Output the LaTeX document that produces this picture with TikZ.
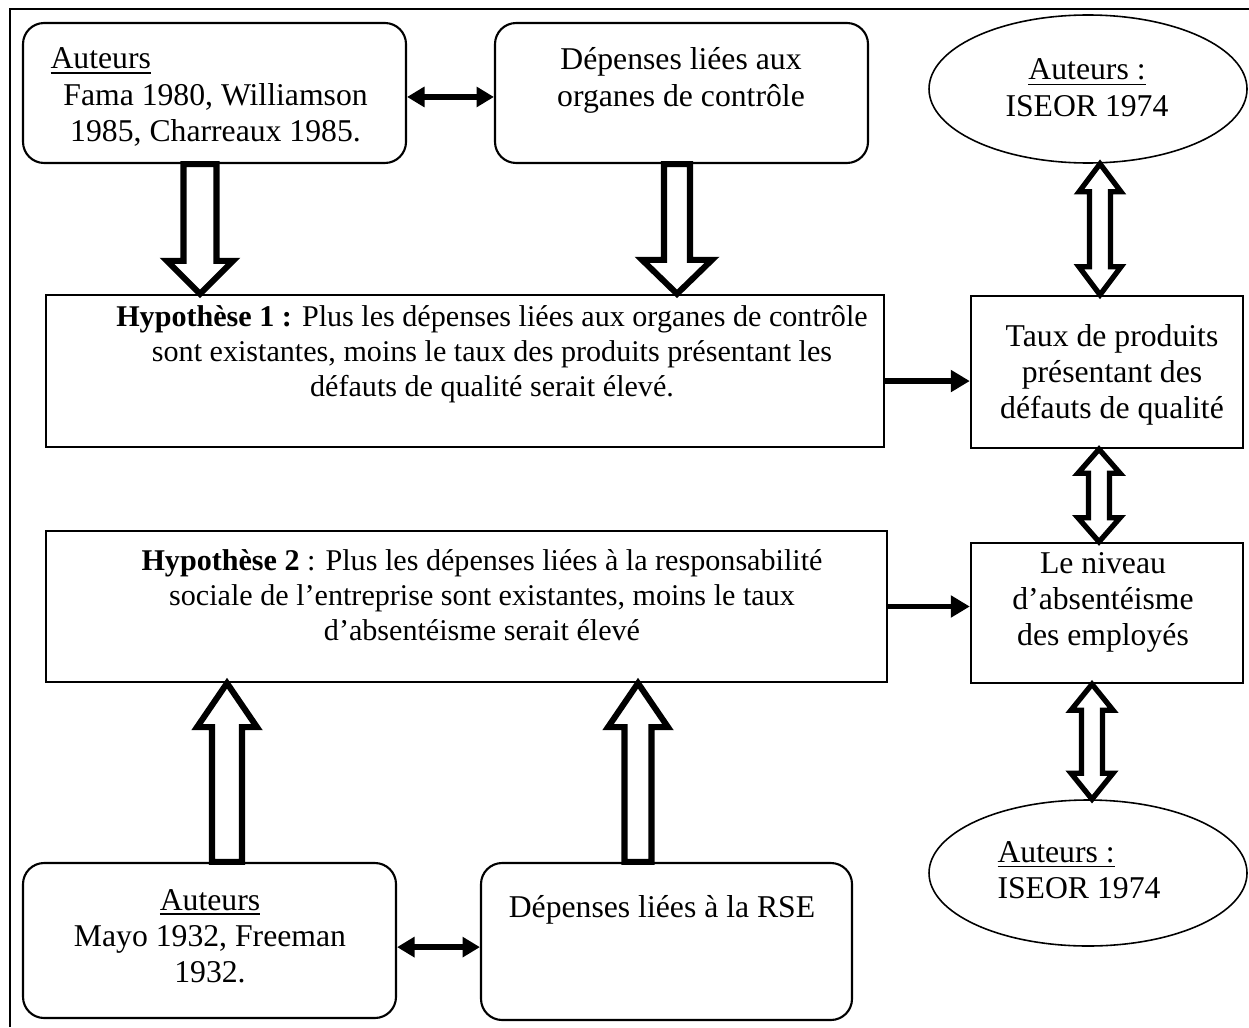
\documentclass[tikz,border=0pt]{standalone}
\usepackage{fontspec}
\setmainfont{Liberation Serif}
\usetikzlibrary{arrows.meta,shapes.geometric,calc}
\newlength\px \setlength\px{0.3785pt}
\newcommand\blkv[5]{\draw[blkl] ($(#1)+(-#3,0)$) -- ($(#2)+(-#3,#5)$) -- ($(#2)+(-#4,#5)$) -- (#2) -- ($(#2)+(#4,#5)$) -- ($(#2)+(#3,#5)$) -- ($(#1)+(#3,0)$) -- cycle;}
\newcommand\blkvv[5]{\draw[blkr] (#1) -- ($(#1)+(#4,#5)$) -- ($(#1)+(#3,#5)$) -- ($(#2)+(#3,-#5)$) -- ($(#2)+(#4,-#5)$) -- (#2) -- ($(#2)+(-#4,-#5)$) -- ($(#2)+(-#3,-#5)$) -- ($(#1)+(-#3,#5)$) -- ($(#1)+(-#4,#5)$) -- cycle;}
\begin{document}
\begin{tikzpicture}[x=0.3785pt,y=-0.3785pt,
  rbox/.style={draw, rounded corners=8pt, line width=0.8pt, inner sep=0pt},
  sbox/.style={draw, rectangle, line width=0.9pt, inner sep=0pt},
  ell/.style={draw, ellipse, line width=0.6pt, inner sep=0pt},
  txt/.style={inner sep=0pt, anchor=base, font=\fontsize{12}{13.8}\selectfont},
  htxt/.style={inner sep=0pt, anchor=base, font=\fontsize{11.4}{13.4}\selectfont},
  blkl/.style={draw, fill=white, line width=2.3pt, line join=miter},
  blkr/.style={draw, fill=white, line width=2pt, line join=miter},
  tarr/.style={line width=2.1pt, -{Triangle[length=7.2pt,width=8pt]}},
  darr/.style={line width=2.2pt, {Triangle[length=6.6pt,width=7.4pt]}-{Triangle[length=6.6pt,width=7.4pt]}}]
\useasboundingbox (0,0) rectangle (1249,1027);
\draw[line width=0.9pt] (10,1027) -- (10,9) -- (1249,9);

% boxes
\node[rbox, minimum width=383\px, minimum height=140\px] (A) at (214.5,93) {};
\node[rbox, minimum width=373\px, minimum height=140\px] (B) at (681.5,93) {};
\node[ell, minimum width=318\px, minimum height=148\px] (E1) at (1088,89) {};
\node[sbox, minimum width=838\px, minimum height=152\px] (H1) at (465,371) {};
\node[sbox, minimum width=272\px, minimum height=152\px] (T) at (1107,372) {};
\node[sbox, minimum width=841\px, minimum height=151\px] (H2) at (466.5,606.5) {};
\node[sbox, minimum width=272\px, minimum height=140\px] (N) at (1107,613) {};
\node[ell, minimum width=318\px, minimum height=146\px] (E2) at (1088,873) {};
\node[rbox, minimum width=373\px, minimum height=155\px] (M) at (209.5,940.5) {};
\node[rbox, minimum width=371\px, minimum height=157\px] (R) at (666.5,941.5) {};

% texts
\node[txt, anchor=base west] (tA) at (50,69) {\parbox[t]{330\px}{\underline{Auteurs}\par\centering Fama 1980, Williamson\\1985, Charreaux 1985.}};
\node[txt] (tB) at (681,70) {\parbox[t]{360\px}{\centering Dépenses liées aux\\organes de contrôle}};
\node[txt] (tE1) at (1087,80) {\parbox[t]{260\px}{\centering\underline{Auteurs :}\\ISEOR 1974}};
\node[htxt] (tH1) at (492,326) {\parbox[t]{840\px}{\centering \textbf{Hypothèse 1 :} Plus les dépenses liées aux organes de contrôle\\sont existantes, moins le taux des produits présentant les\\défauts de qualité serait élevé.}};
\node[txt] (tT) at (1112,346) {\parbox[t]{260\px}{\centering Taux de produits\\présentant des\\défauts de qualité}};
\node[htxt] (tH2) at (482,570) {\parbox[t]{840\px}{\centering \textbf{Hypothèse 2} : Plus les dépenses liées à la responsabilité\\sociale de l’entreprise sont existantes, moins le taux\\d’absentéisme serait élevé}};
\node[txt] (tN) at (1103,573) {\parbox[t]{260\px}{\centering Le niveau\\d’absentéisme\\des employés}};
\node[txt, anchor=base west] (tE2) at (997,862) {\parbox[t]{220\px}{\underline{Auteurs :}\\ISEOR 1974}};
\node[txt] (tM) at (210,910) {\parbox[t]{340\px}{\centering \underline{Auteurs}\\Mayo 1932, Freeman\\1932.}};
\node[txt] (tR) at (662,917) {Dépenses liées à la RSE};

% thin arrows
\draw[darr] ([yshift=-1.5pt]A.east) coordinate (ab1) -- (ab1 -| B.west);
\draw[tarr] ([yshift=-3.8pt]H1.east) coordinate (h1o) -- (h1o -| T.west);
\draw[tarr] ([yshift=0pt]H2.east) coordinate (h2o) -- (h2o -| N.west);
\draw[darr] ([yshift=-2.5pt]M.east) coordinate (mr1) -- (mr1 -| R.west);

% block arrow positions
\coordinate (xa) at (200,0);
\coordinate (xb) at (677,0);
\coordinate (xm) at (227,0);
\coordinate (xr) at (638,0);
\coordinate (xe1) at (1100,0);
\coordinate (xtn) at (1099,0);
\coordinate (xe2) at (1092,0);
\coordinate (a1) at (A.south -| xa);  \coordinate (a2) at (H1.north -| xa);
\coordinate (b1) at (B.south -| xb);  \coordinate (b2) at (H1.north -| xb);
\coordinate (m1) at (M.north -| xm);  \coordinate (m2) at (H2.south -| xm);
\coordinate (r1) at (R.north -| xr);  \coordinate (r2) at (H2.south -| xr);
\coordinate (e1) at (E1.south -| xe1); \coordinate (t1) at (T.north -| xe1);
\coordinate (t2) at (T.south -| xtn); \coordinate (n1) at (N.north -| xtn);
\coordinate (n2) at (N.south -| xe2); \coordinate (e2) at (E2.north -| xe2);

\blkv{a1}{a2}{16.5}{33}{-33}
\blkv{b1}{b2}{13}{35}{-34}
\blkv{m1}{m2}{15}{30}{44}
\blkv{r1}{r2}{13.5}{30}{44}
\blkvv{e1}{t1}{10.5}{21}{28}
\blkvv{t2}{n1}{10.5}{21}{24}
\blkvv{n2}{e2}{10.5}{21}{26}
\end{tikzpicture}
\end{document}
